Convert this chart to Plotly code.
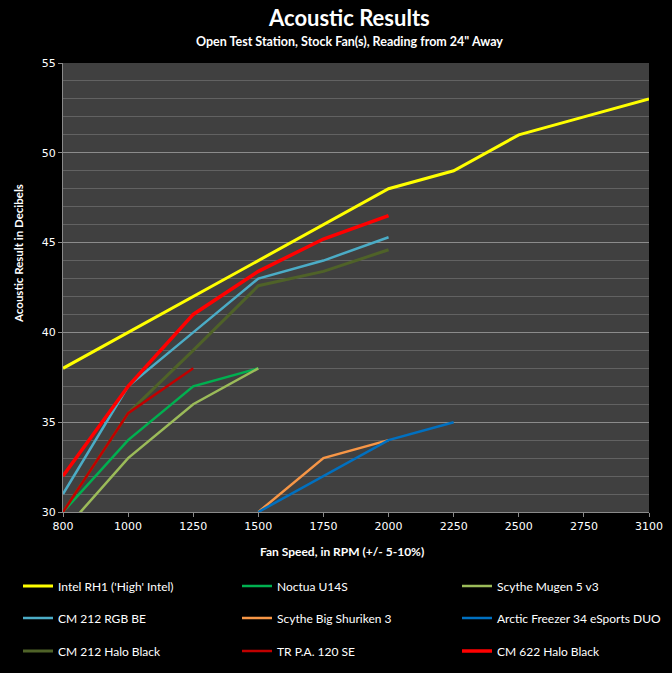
import plotly.graph_objects as go

rpm = ["800", "1000", "1250", "1500", "1750", "2000", "2250", "2500", "2750", "3100"]

intel_rh1 = [38, 40, 42, 44, 46, 48, 49, 51, 52, 53]
noctua_u14s = [30, 34, 37, 38, None, None, None, None, None, None]
mugen5 = [28.9, 33, 36, 38, None, None, None, None, None, None]
cm212_rgb = [31, 37, 40, 43, 44, 45.3, None, None, None, None]
shuriken3 = [None, None, None, 30, 33, 34, None, None, None, None]
arctic34 = [None, None, None, 30, 32, 34, 35, None, None, None]
cm212_halo = [30, 35.5, 39, 42.6, 43.4, 44.6, None, None, None, None]
tr_pa120 = [30, 35.5, 38, None, None, None, None, None, None, None]
cm622_halo = [32, 37, 41, 43.4, 45.2, 46.5, None, None, None, None]

series = [
    ("Intel RH1 ('High' Intel)", intel_rh1, "#FFFF00", 3),
    ("Noctua U14S", noctua_u14s, "#00B050", 2.5),
    ("Scythe Mugen 5 v3", mugen5, "#9BBB59", 2.5),
    ("CM 212 RGB BE", cm212_rgb, "#4BACC6", 2.5),
    ("Scythe Big Shuriken 3", shuriken3, "#F79646", 2.5),
    ("Arctic Freezer 34 eSports DUO", arctic34, "#0070C0", 2.5),
    ("CM 212 Halo Black", cm212_halo, "#4F6228", 3),
    ("TR P.A. 120 SE", tr_pa120, "#C00000", 2.5),
    ("CM 622 Halo Black", cm622_halo, "#FF0000", 3.5),
]

def px_to_paper_y(p):
    return (512 - p) / 449.0

def px_to_paper_x(p):
    return (p - 63) / 586.0

fig = go.Figure()
leg_font = dict(family="Lato", size=12, color="white")
col_px = [18, 237, 457]
row_px = [586, 618, 651]
legends = {}
for i, (name, vals, color, w) in enumerate(series):
    key = "legend" if i == 0 else "legend%d" % (i + 1)
    fig.add_trace(go.Scatter(
        x=rpm, y=vals, name=name, mode="lines",
        line=dict(color=color, width=w),
        connectgaps=False, legend=key,
    ))
    legends[key] = dict(
        orientation="h", font=leg_font, bgcolor="rgba(0,0,0,0)",
        xanchor="left", yanchor="middle", itemwidth=30,
        x=px_to_paper_x(col_px[i % 3]), y=px_to_paper_y(row_px[i // 3]),
    )

fig.update_layout(
    width=672, height=673,
    paper_bgcolor="black", plot_bgcolor="#404040",
    margin=dict(l=63, r=23, t=63, b=161, autoexpand=False),
    showlegend=True,
    xaxis=dict(
        type="category", range=[0, 9], showgrid=False,
        showline=True, linecolor="#8a8a8a", linewidth=1,
        ticks="outside", tickcolor="#8a8a8a", ticklen=4,
        tickfont=dict(family="DejaVu Sans", size=11, color="white"),
        zeroline=False,
    ),
    yaxis=dict(
        range=[30, 55], dtick=5, tick0=30,
        showgrid=True, gridcolor="#8c8c8c", gridwidth=1,
        showline=True, linecolor="#8a8a8a", linewidth=1,
        ticks="outside", tickcolor="#8a8a8a", ticklen=4,
        tickfont=dict(family="DejaVu Sans", size=11, color="white"),
        minor=dict(dtick=1, showgrid=True, gridcolor="#626262", gridwidth=1),
        zeroline=False,
    ),
    annotations=[
        dict(text="<b>Acoustic Results</b>", x=px_to_paper_x(349), y=px_to_paper_y(17),
             xref="paper", yref="paper", showarrow=False,
             font=dict(family="Lato", size=22, color="white"), xanchor="center", yanchor="middle"),
        dict(text="<b>Open Test Station, Stock Fan(s), Reading from 24\" Away</b>",
             x=px_to_paper_x(349), y=px_to_paper_y(42),
             xref="paper", yref="paper", showarrow=False,
             font=dict(family="Lato", size=12.5, color="white"), xanchor="center", yanchor="middle"),
        dict(text="<b>Fan Speed, in RPM (+/- 5-10%)</b>",
             x=px_to_paper_x(342), y=px_to_paper_y(551),
             xref="paper", yref="paper", showarrow=False,
             font=dict(family="Lato", size=12, color="white"), xanchor="center", yanchor="middle"),
        dict(text="<b>Acoustic Result in Decibels</b>",
             x=px_to_paper_x(18), y=px_to_paper_y(254), textangle=-90,
             xref="paper", yref="paper", showarrow=False,
             font=dict(family="Lato", size=11.5, color="white"), xanchor="center", yanchor="middle"),
    ],
)
fig.update_layout(**legends)

fig.write_html("out.html", config={"displayModeBar": False},
               post_script="document.body.style.margin='0';document.body.style.background='black';")
